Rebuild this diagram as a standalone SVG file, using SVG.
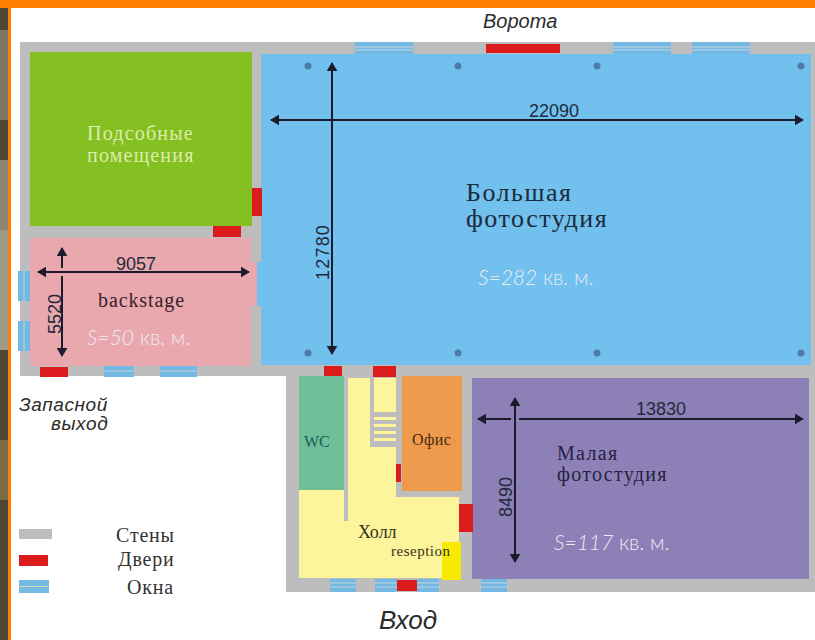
<svg xmlns="http://www.w3.org/2000/svg" width="815" height="640" viewBox="0 0 815 640">
<style>
.wall{fill:#bdbdbd}.door{fill:#dc1c1c}.win{fill:#74b9e4}.winl{stroke:#c3d3da;stroke-width:1;fill:none}
.dot{fill:#4f7ba6}
.ser{font-family:"Liberation Serif",serif}.san{font-family:"Liberation Sans",sans-serif}
.area{font-family:"Lato","Open Sans",sans-serif;font-size:21px;fill:#ecebf2;font-weight:300}
.dim{font-family:"Liberation Sans",sans-serif;font-size:18px;fill:#1f2a3c}
.cap{font-family:"Liberation Sans",sans-serif;font-style:italic;fill:#2b2b2b}
.arr{stroke:#1b1b2c;stroke-width:2;fill:none;marker-start:url(#ah);marker-end:url(#ah)}
</style>
<defs>
<marker id="ah" viewBox="0 0 10 12" refX="9" refY="6" markerWidth="9" markerHeight="11" markerUnits="userSpaceOnUse" orient="auto-start-reverse"><path d="M0 0L10 6L0 12Z" fill="#1b1b2c"/></marker>
</defs>
<rect width="815" height="640" fill="#fff"/>
<g id="frame">
<rect x="0" y="0" width="8" height="640" fill="#4e4738"/>
<rect x="0" y="30" width="8" height="90" fill="#7d7565"/>
<rect x="0" y="160" width="8" height="70" fill="#8d8676"/>
<rect x="0" y="230" width="8" height="120" fill="#a09a88"/>
<rect x="0" y="440" width="8" height="60" fill="#7a6a48"/>
<rect x="8" y="0" width="3" height="640" fill="#ff7f00"/>
<rect x="0" y="0" width="815" height="8" fill="#ff7f00"/>
</g>
<g id="walls">
<rect class="wall" x="20" y="42" width="795" height="334"/>
<rect class="wall" x="286" y="376" width="529" height="216"/>
</g>
<g id="room-podsobnye">
<rect x="30" y="52" width="222" height="174" fill="#84c021"/>
<text class="ser" font-size="20" letter-spacing="1.200" fill="#dcedaa"><tspan x="87" y="140">Подсобные</tspan><tspan x="87" y="162">помещения</tspan></text>
</g>
<g id="room-backstage">
<rect x="30" y="238" width="221" height="128" fill="#e9a8ae"/>
<rect x="251" y="262" width="6" height="44" fill="#e9a8ae"/>
<text class="ser" x="98" y="307" font-size="20" letter-spacing="0.900" fill="#35222c">backstage</text>
<text class="area" x="87" y="345"><tspan font-style="italic">S=50</tspan> кв. м.</text>
</g>
<g id="room-big">
<path d="M261 54H811V365H261V306H257V262H261Z" fill="#71c0ee"/>
<circle class="dot" cx="308" cy="66" r="3.500"/><circle class="dot" cx="458" cy="66" r="3.500"/><circle class="dot" cx="597" cy="66" r="3.500"/><circle class="dot" cx="801" cy="66" r="3.500"/>
<circle class="dot" cx="308" cy="353" r="3.500"/><circle class="dot" cx="458" cy="353" r="3.500"/><circle class="dot" cx="597" cy="353" r="3.500"/><circle class="dot" cx="801" cy="353" r="3.500"/>
<text class="ser" font-size="26" letter-spacing="1.500" fill="#1c2a3a"><tspan x="466" y="201">Большая</tspan><tspan x="466" y="227">фотостудия</tspan></text>
<text class="area" x="478" y="285" fill="#e8f4fb"><tspan font-style="italic">S=282</tspan> кв. м.</text>
</g>
<g id="room-wc">
<rect x="299" y="376" width="45" height="114" fill="#6fbf98"/>
<text class="ser" x="304" y="447" font-size="16" fill="#1f5a5c">WC</text>
</g>
<g id="room-hall">
<path d="M348 378H370V447H396V497H459V578H299V490H344V521H348Z" fill="#fdf59b"/>
<rect x="374" y="378" width="22" height="34" fill="#fdf59b"/>
<rect x="370" y="412" width="26" height="35" fill="#bdbdbd"/>
<rect x="374" y="417" width="22" height="3" fill="#fdf59b"/>
<rect x="374" y="424" width="22" height="3" fill="#fdf59b"/>
<rect x="374" y="431" width="22" height="3" fill="#fdf59b"/>
<rect x="374" y="438" width="22" height="3" fill="#fdf59b"/>
<rect x="442" y="542" width="19" height="38" fill="#f7ea00"/>
<text class="ser" x="358" y="538" font-size="18" fill="#33301a">Холл</text>
<text class="ser" x="391" y="556" font-size="15" letter-spacing="0.500" fill="#33301a">reseption</text>
</g>
<g id="room-office">
<rect x="402" y="376" width="60" height="115" fill="#ee9a4d"/>
<text class="ser" x="412" y="445" font-size="16" letter-spacing="0.400" fill="#4a2a10">Офис</text>
</g>
<g id="room-small">
<rect x="472" y="378" width="337" height="201" fill="#8d80b6"/>
<text class="ser" font-size="20" letter-spacing="1.300" fill="#252340"><tspan x="557" y="460">Малая</tspan><tspan x="557" y="481">фотостудия</tspan></text>
<text class="area" x="554" y="550"><tspan font-style="italic">S=117</tspan> кв. м.</text>
</g>
<g id="doors">
<rect class="door" x="486" y="44" width="74" height="9"/>
<rect class="door" x="252" y="188" width="10" height="28"/>
<rect class="door" x="213" y="226" width="28" height="11"/>
<rect class="door" x="40" y="367" width="28" height="10"/>
<rect class="door" x="324" y="366" width="18" height="10"/>
<rect class="door" x="373" y="366" width="23" height="11"/>
<rect class="door" x="396" y="464" width="5" height="18"/>
<rect class="door" x="459" y="504" width="14" height="28"/>
<rect class="door" x="397" y="580" width="20" height="11"/>
</g>
<g id="windows">
<rect class="win" x="355" y="42" width="58" height="12"/><path class="winl" d="M355 47H413M355 50H413"/>
<rect class="win" x="613" y="42" width="58" height="12"/><path class="winl" d="M613 47H671M613 50H671"/>
<rect class="win" x="692" y="42" width="58" height="12"/><path class="winl" d="M692 47H750M692 50H750"/>
<rect class="win" x="18" y="271" width="12" height="30"/><path class="winl" d="M24 271V301"/>
<rect class="win" x="18" y="321" width="12" height="30"/><path class="winl" d="M24 321V351"/>
<rect class="win" x="104" y="366" width="30" height="11"/><path class="winl" d="M104 371H134"/>
<rect class="win" x="160" y="366" width="37" height="11"/><path class="winl" d="M160 371H197"/>
<rect class="win" x="330" y="579" width="26" height="13"/><path class="winl" d="M330 583H356M330 587H356"/>
<rect class="win" x="375" y="579" width="22" height="13"/><path class="winl" d="M375 583H397M375 587H397"/>
<rect class="win" x="417" y="579" width="22" height="13"/><path class="winl" d="M417 583H439M417 587H439"/>
<rect class="win" x="481" y="579" width="26" height="13"/><path class="winl" d="M481 583H507M481 587H507"/>
</g>
<g id="connectors">
<line class="arr" x1="271" y1="120" x2="803" y2="120"/>
<line class="arr" x1="332" y1="63" x2="332" y2="354"/>
<line class="arr" x1="38" y1="272" x2="249" y2="272"/>
<path class="arr" d="M62 248V268M62 276V356"/>
<path class="arr" d="M478 419H511M519 419H803"/>
<line class="arr" x1="515" y1="398" x2="515" y2="562"/>
</g>
<g id="labels">
<text class="dim" x="529" y="117">22090</text>
<text class="dim" x="116" y="270">9057</text>
<text class="dim" x="636" y="415">13830</text>
<text class="dim" letter-spacing="1.200" transform="translate(329 280) rotate(-90)">12780</text>
<text class="dim" transform="translate(61 334) rotate(-90)">5520</text>
<text class="dim" transform="translate(512 517) rotate(-90)">8490</text>
<text class="cap" x="483" y="28" font-size="20">Ворота</text>
<text class="cap" x="379" y="629" font-size="26">Вход</text>
<text class="cap" font-size="19" letter-spacing="0.600"><tspan x="19" y="411">Запасной</tspan><tspan x="51" y="430">выход</tspan></text>
</g>
<g id="legend">
<rect class="wall" x="19" y="529" width="33" height="10"/>
<rect class="door" x="19" y="555" width="29" height="11"/>
<rect class="win" x="19" y="580" width="30" height="13"/><path d="M19 586.500H49" stroke="#d8d8b0" stroke-width="1"/>
<text class="ser" x="116" y="542" font-size="20" letter-spacing="0.800" fill="#333">Стены</text>
<text class="ser" x="118" y="566" font-size="20" letter-spacing="0.800" fill="#333">Двери</text>
<text class="ser" x="127" y="594" font-size="20" letter-spacing="0.800" fill="#333">Окна</text>
</g>
</svg>
